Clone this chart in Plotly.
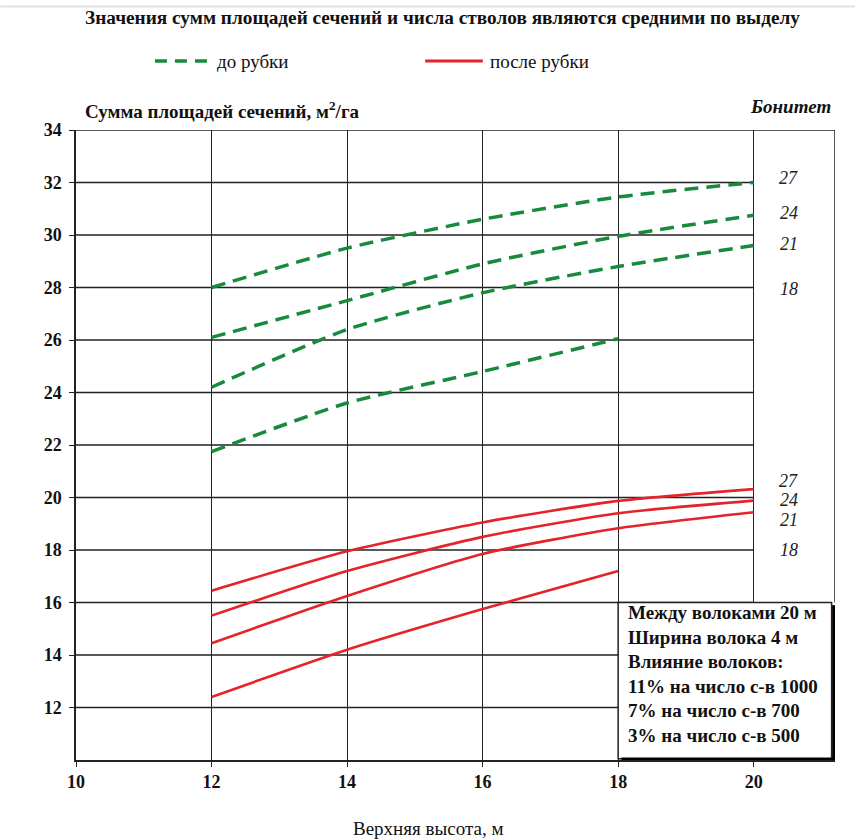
import plotly.graph_objects as go

# Upper height, m
heights = [12, 14, 16, 18, 20]

# Site classes (bonitet)
site_classes = ["27", "24", "21", "18"]

# Basal area before thinning, m2/ha
before_27 = [28.0, 29.5, 30.6, 31.45, 32.0]
before_24 = [26.1, 27.5, 28.9, 29.95, 30.75]
before_21 = [24.2, 26.4, 27.8, 28.8, 29.6]
before_18 = [21.75, 23.6, 24.8, 26.05]

# Basal area after thinning, m2/ha
after_27 = [16.45, 17.95, 19.05, 19.87, 20.32]
after_24 = [15.5, 17.2, 18.5, 19.4, 19.88]
after_21 = [14.45, 16.25, 17.85, 18.83, 19.44]
after_18 = [12.4, 14.2, 15.75, 17.2]

y_ticks = list(range(12, 35, 2))
x_ticks = list(range(10, 21, 2))

note_lines = [
    "Между волоками 20 м",
    "Ширина волока 4 м",
    "Влияние волоков:",
    "11% на число с-в 1000",
    "7% на число с-в 700",
    "3% на число с-в 500",
]

GREEN = "#178a3e"
RED = "#e4232b"
SERIF = "Liberation Serif, Times New Roman, serif"
FS = 19

fig = go.Figure()

for ys in (before_27, before_24, before_21, before_18):
    fig.add_trace(go.Scatter(
        x=heights[:len(ys)], y=ys, mode="lines", showlegend=False,
        line=dict(color=GREEN, width=3.5, dash="14px,8px", shape="spline", smoothing=0.6),
        hoverinfo="x+y",
    ))

for ys in (after_27, after_24, after_21, after_18):
    fig.add_trace(go.Scatter(
        x=heights[:len(ys)], y=ys, mode="lines", showlegend=False,
        line=dict(color=RED, width=2.6, shape="spline", smoothing=0.6),
        hoverinfo="x+y",
    ))

shapes = []
# horizontal grid, only across the data range
for yv in y_ticks[:-1]:
    shapes.append(dict(type="line", xref="x", yref="y", x0=10, x1=20, y0=yv, y1=yv,
                       line=dict(color="#222", width=1.3), layer="below"))
# top and right frame
shapes.append(dict(type="line", xref="x", yref="y", x0=10, x1=21.2, y0=34, y1=34,
                   line=dict(color="#222", width=1.5)))
shapes.append(dict(type="line", xref="x", yref="y", x0=21.2, x1=21.2, y0=34, y1=16,
                   line=dict(color="#222", width=1.5)))
# note box with shadow
shapes.append(dict(type="rect", xref="x", yref="y", x0=18.0, x1=21.15, y0=10.05, y1=16,
                   fillcolor="white", line=dict(color="#222", width=1.5)))
shapes.append(dict(type="line", xref="x", yref="y", x0=18.05, x1=21.2, y0=10.02, y1=10.02,
                   line=dict(color="black", width=4)))
shapes.append(dict(type="line", xref="x", yref="y", x0=21.18, x1=21.18, y0=10.0, y1=15.9,
                   line=dict(color="black", width=3)))
# legend samples
shapes.append(dict(type="line", xref="paper", yref="paper", x0=0.104, x1=0.177, y0=1.1095, y1=1.1095,
                   line=dict(color=GREEN, width=3.5, dash="12px,8px")))
shapes.append(dict(type="line", xref="paper", yref="paper", x0=0.46, x1=0.536, y0=1.1095, y1=1.1095,
                   line=dict(color=RED, width=3)))
# thin rule at the top of the page
shapes.append(dict(type="line", xref="paper", yref="paper", x0=-0.1, x1=1.03, y0=1.196, y1=1.196,
                   line=dict(color="#e2e2e2", width=2)))

annotations = [
    dict(text="<b>Значения сумм площадей сечений и числа стволов являются средними по выделу</b>",
         xref="paper", yref="paper", x=0.4835, y=1.179, xanchor="center", yanchor="middle",
         showarrow=False, font=dict(family=SERIF, size=19.3, color="#111")),
    dict(text="до рубки", xref="paper", yref="paper", x=0.183, y=1.1095, xanchor="left",
         yanchor="middle", showarrow=False, font=dict(family=SERIF, size=FS, color="#111")),
    dict(text="после рубки", xref="paper", yref="paper", x=0.543, y=1.1095, xanchor="left",
         yanchor="middle", showarrow=False, font=dict(family=SERIF, size=FS, color="#111")),
    dict(text="<b>Сумма площадей сечений, м<sup>2</sup>/га</b>", xref="paper", yref="paper",
         x=0.009, y=1.032, xanchor="left", yanchor="middle", showarrow=False,
         font=dict(family=SERIF, size=FS, color="#111")),
    dict(text="<b><i>Бонитет</i></b>", xref="paper", yref="paper", x=0.997, y=1.037,
         xanchor="right", yanchor="middle", showarrow=False,
         font=dict(family=SERIF, size=FS, color="#111")),
    dict(text="Верхняя высота, м", xref="paper", yref="paper", x=0.464, y=-0.108,
         xanchor="center", yanchor="middle", showarrow=False,
         font=dict(family=SERIF, size=FS, color="#111")),
]

# site-class labels at the right end of the curves
green_label_y = [32.17, 30.84, 29.65, 27.94]
red_label_y = [20.62, 19.9, 19.13, 17.99]
for lab, yg, yr in zip(site_classes, green_label_y, red_label_y):
    for yy in (yg, yr):
        annotations.append(dict(text=f"<i>{lab}</i>", xref="x", yref="y", x=20.52, y=yy,
                                xanchor="center", yanchor="middle", showarrow=False,
                                font=dict(family=SERIF, size=18, color="#222")))

# note box text
note_top = 15.62
note_step = 0.935
for i, line in enumerate(note_lines):
    annotations.append(dict(text=f"<b>{line}</b>", xref="x", yref="y", x=18.12,
                            y=note_top - i * note_step, xanchor="left", yanchor="middle",
                            showarrow=False, font=dict(family=SERIF, size=FS, color="#111")))

fig.update_layout(
    width=855, height=839,
    margin=dict(l=76, r=20, t=130, b=79),
    paper_bgcolor="white", plot_bgcolor="white",
    shapes=shapes, annotations=annotations,
    showlegend=False,
    xaxis=dict(range=[10, 21.2], tickvals=x_ticks, ticktext=[f"<b>{v}</b>" for v in x_ticks],
               showgrid=True, gridcolor="#222", gridwidth=1.3, zeroline=False,
               showline=True, linecolor="#222", linewidth=1.5,
               ticks="outside", ticklen=5, tickcolor="#222",
               tickfont=dict(family=SERIF, size=18, color="#111")),
    yaxis=dict(range=[10, 34], tickvals=y_ticks, ticktext=[f"<b>{v}</b>" for v in y_ticks],
               showgrid=False, zeroline=False,
               showline=True, linecolor="#222", linewidth=1.5,
               ticks="outside", ticklen=5, tickcolor="#222", ticklabelstandoff=4,
               tickfont=dict(family=SERIF, size=18, color="#111")),
)

fig.write_html("out.html")
